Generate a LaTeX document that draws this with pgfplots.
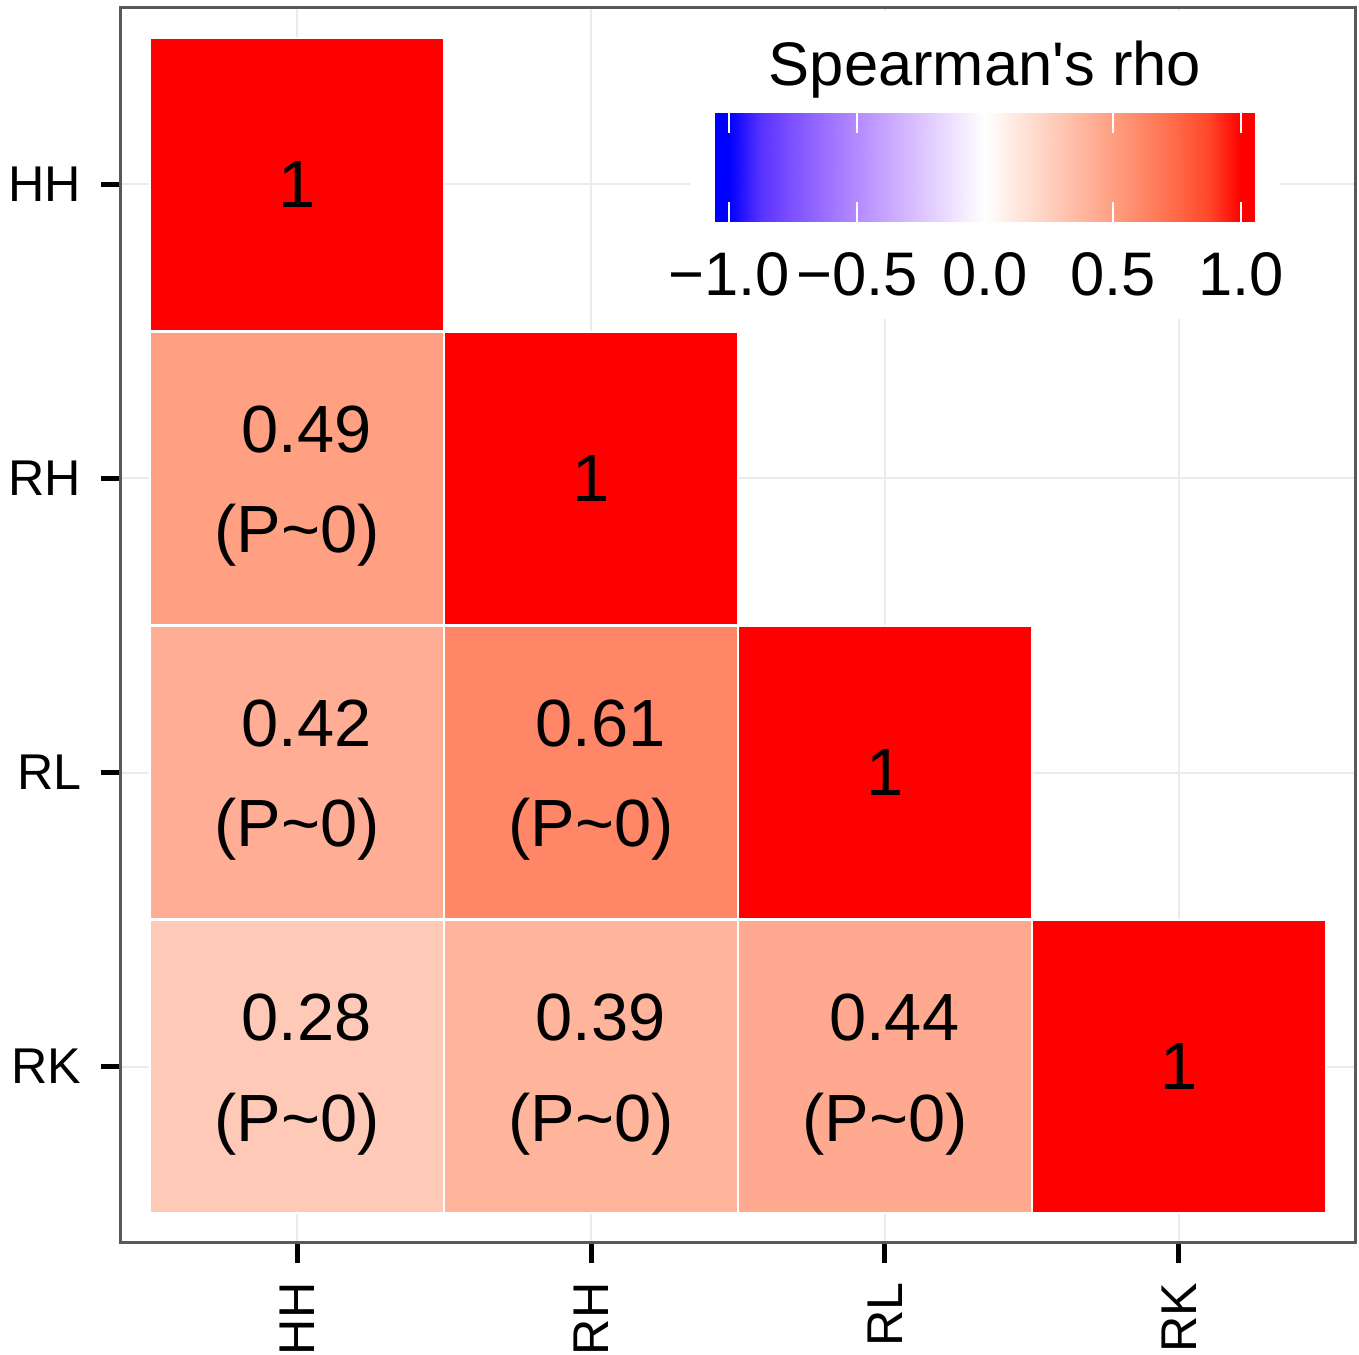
\documentclass[border=0pt]{standalone}
\usepackage{fontspec}
\setmainfont{Liberation Sans}
\usepackage{pgfplots}
\pgfplotsset{compat=1.18}
\usetikzlibrary{calc}

% blue-white-red gradient (Lab-like steps), positions = (rho+1.055)*100
\pgfplotsset{
  colormap={spear}{
    rgb255(0pt)=(0,0,255) rgb255(5.5pt)=(0,0,255)
    rgb255(18pt)=(89,50,255) rgb255(30.5pt)=(126,82,255)
    rgb255(43pt)=(155,111,255) rgb255(55.5pt)=(179,139,255)
    rgb255(68pt)=(200,168,255) rgb255(80.5pt)=(220,196,255)
    rgb255(93pt)=(238,226,255) rgb255(105.5pt)=(255,255,255)
    rgb255(118pt)=(255,231,222) rgb255(130.5pt)=(255,207,191)
    rgb255(143pt)=(255,183,160) rgb255(155.5pt)=(255,158,129)
    rgb255(168pt)=(255,132,100) rgb255(180.5pt)=(255,104,70)
    rgb255(193pt)=(255,70,40) rgb255(205.5pt)=(255,0,0)
    rgb255(211pt)=(255,0,0)
  }
}

\begin{document}
\begin{tikzpicture}
\begin{axis}[
  name=ax,
  scale only axis, width=123.4mm, height=123.5mm,
  xmin=0.4, xmax=4.6, ymin=0.4, ymax=4.6,
  xtick={1,2,3,4}, xticklabels={HH,RH,RL,RK},
  ytick={1,2,3,4}, yticklabels={RK,RL,RH,HH},
  xtick pos=left, ytick pos=left,
  tick align=outside, major tick length=2mm,
  major tick style={black, line width=0.5mm},
  axis line style={draw=black!65, line width=0.3mm},
  grid=major, major grid style={draw=black!8, line width=0.2mm},
  ticklabel style={font=\fontsize{14.3}{17}\selectfont, inner xsep=1.9mm, inner ysep=0pt},
  xticklabel style={rotate=90, anchor=east},
  colormap name=spear,
  point meta min=-1.055, point meta max=1.055,
]
% white legend background
\fill[white] (axis cs:2.337,3.541) rectangle (axis cs:4.344,4.59);

% tiles
\addplot[scatter, only marks, mark=square*, mark size=14.69mm,
  scatter/use mapped color={draw=white, fill=mapped color, line width=0.2mm},
  point meta=explicit,
] table[meta=v] {
x y v
1 4 1
2 3 1
3 2 1
4 1 1
1 3 0.49
1 2 0.42
2 2 0.61
1 1 0.28
2 1 0.39
3 1 0.44
};

% diagonal labels
\addplot[draw=none, mark=none, point meta=explicit,
  nodes near coords={1},
  every node near coord/.append style={anchor=center, text=black, font=\fontsize{19}{28.5}\selectfont},
] table[meta=v] {
x y v
1 4 1
2 3 1
3 2 1
4 1 1
};

% off-diagonal labels
\addplot[draw=none, mark=none, point meta=explicit,
  nodes near coords={\hspace*{0.28em}\pgfmathprintnumber[fixed,fixed zerofill,precision=2,assume math mode=true]{\pgfplotspointmeta}\\(P\textasciitilde 0)},
  every node near coord/.append style={anchor=center, align=center, yshift=-0.8mm, text=black, font=\fontsize{19}{28.5}\selectfont},
] table[meta=v] {
x y v
1 3 0.49
1 2 0.42
2 2 0.61
1 1 0.28
2 1 0.39
3 1 0.44
};
\end{axis}

% colour bar
\begin{axis}[
  at={($(ax.north west)+(59.4mm,-10.5mm)$)}, anchor=north west,
  scale only axis, width=54mm, height=10.9mm,
  xmin=-1.055, xmax=1.055, ymin=0, ymax=1,
  ytick=\empty,
  xtick={-1,-0.5,0,0.5,1},
  xticklabels={−1.0,−0.5,0.0,0.5,1.0},
  tick align=inside, xtick pos=both, xticklabel pos=lower,
  major tick length=2mm,
  major tick style={white, line width=0.25mm},
  axis line style={draw=none},
  axis on top,
  xticklabel style={font=\fontsize{17.5}{20}\selectfont, inner sep=0pt, yshift=-3mm},
  title={Spearman\textquotesingle s rho},
  title style={font=\fontsize{17.5}{20}\selectfont, inner sep=0pt, yshift=-0.7mm},
  colormap name=spear,
  point meta min=-1.055, point meta max=1.055,
]
\addplot[surf, shader=interp, mesh/cols=19, point meta=x] table {
x y
-1.055 0
-1 0
-0.875 0
-0.75 0
-0.625 0
-0.5 0
-0.375 0
-0.25 0
-0.125 0
0 0
0.125 0
0.25 0
0.375 0
0.5 0
0.625 0
0.75 0
0.875 0
1 0
1.055 0
-1.055 1
-1 1
-0.875 1
-0.75 1
-0.625 1
-0.5 1
-0.375 1
-0.25 1
-0.125 1
0 1
0.125 1
0.25 1
0.375 1
0.5 1
0.625 1
0.75 1
0.875 1
1 1
1.055 1
};
\end{axis}
\pgfresetboundingbox
\path ($(ax.south west)+(-12.1mm,-11.2mm)$) rectangle ($(ax.north east)+(0.4mm,0.8mm)$);
\end{tikzpicture}
\end{document}
